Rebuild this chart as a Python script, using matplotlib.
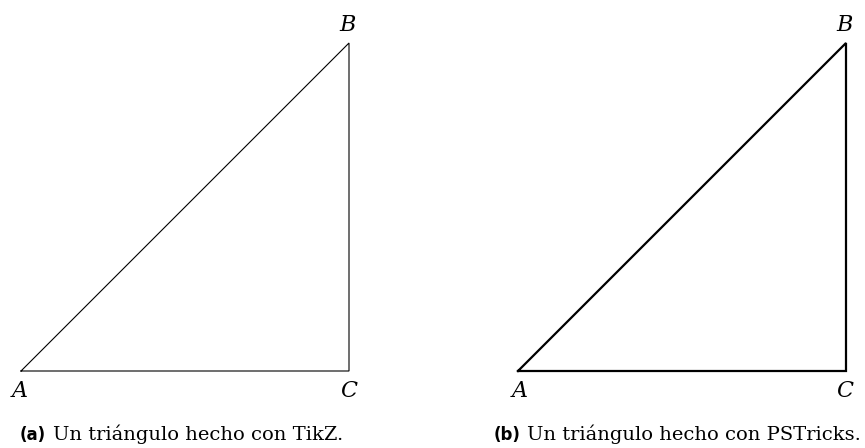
import matplotlib
matplotlib.use("Agg")
import matplotlib.pyplot as plt

# Triangle vertices (pixel coords of the reference, y downward)
tri_a_x = [21, 349, 349, 21]
tri_a_y = [371, 43, 371, 371]
tri_b_x = [518, 846, 846, 518]
tri_b_y = [371, 43, 371, 371]

labels = ["A", "B", "C"]
label_a_pos = [(20, 391), (348, 25), (349, 391)]
label_b_pos = [(520, 391), (845, 25), (845, 391)]

# tag, text, x of tag, x of text
captions = [("(a)", "Un triángulo hecho con TikZ.", 20, 53),
            ("(b)", "Un triángulo hecho con PSTricks.", 494, 527)]

fig = plt.figure(figsize=(8.65, 4.48), dpi=100)
ax = fig.add_axes([0, 0, 1, 1])
ax.set_xlim(0, 865)
ax.set_ylim(448, 0)
ax.axis("off")

ax.plot(tri_a_x, tri_a_y, color="black", lw=0.8, solid_joinstyle="miter")
ax.plot(tri_b_x, tri_b_y, color="black", lw=1.6, solid_joinstyle="miter")

for lab, (x, y) in zip(labels, label_a_pos):
    ax.text(x, y, lab, fontsize=16, family="DejaVu Serif", style="italic",
            ha="center", va="center")
for lab, (x, y) in zip(labels, label_b_pos):
    ax.text(x, y, lab, fontsize=16, family="DejaVu Serif", style="italic",
            ha="center", va="center")

for tag, txt, x_tag, x_txt in captions:
    ax.text(x_tag, 440, tag, fontsize=12, family="DejaVu Sans", weight="bold",
            ha="left", va="baseline")
    ax.text(x_txt, 440, txt, fontsize=14, family="DejaVu Serif",
            ha="left", va="baseline")

fig.savefig("out.png", dpi=100)
